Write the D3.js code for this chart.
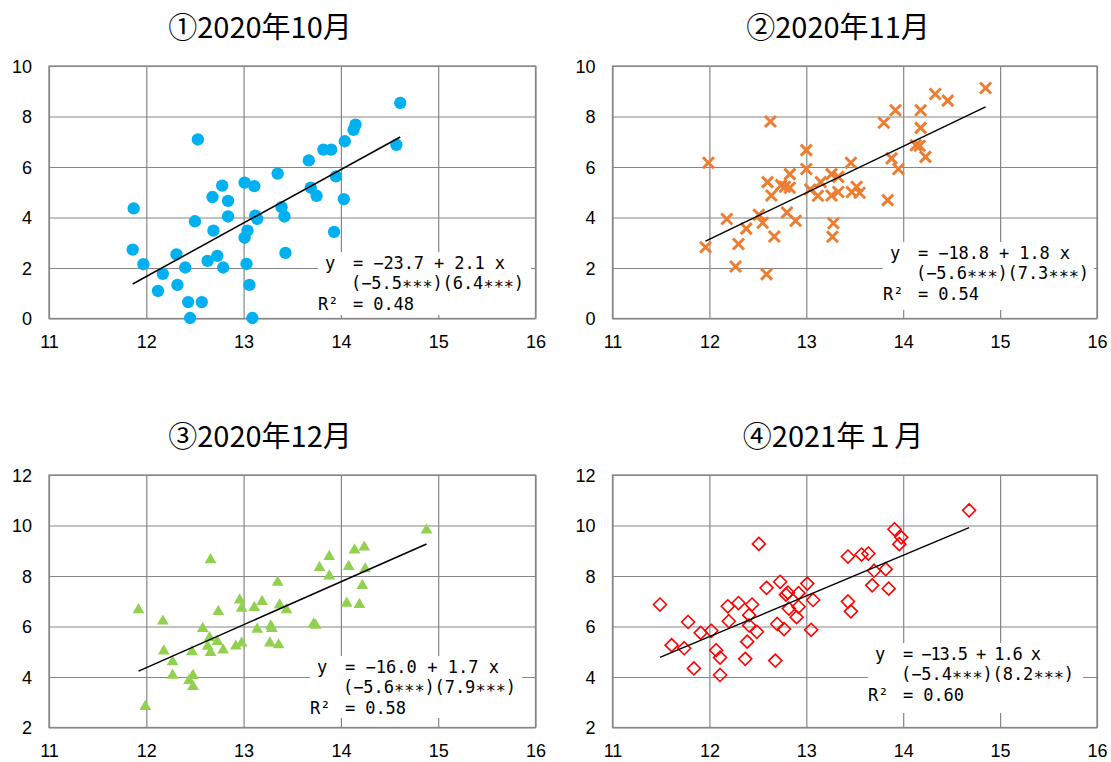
<!DOCTYPE html>
<html>
<head>
<meta charset="utf-8">
<script src="https://cdn.jsdelivr.net/npm/d3@7"></script>
<style>
  body { margin: 0; background: #fff; }
  svg { display: block; }
</style>
</head>
<body>
<div id="app"></div>
<script>
(function (d3) {

  'use strict'

  // titles
  const titles = ['①2020年10月', '②2020年11月', '③2020年12月', '④2021年１月']

  // tick values
  const xTicks = [11, 12, 13, 14, 15, 16]
  const yTicksTop = [0, 2, 4, 6, 8, 10]
  const yTicksBottom = [2, 4, 6, 8, 10, 12]

  // 2020/10
  const octX = [14.61, 14.57, 14.15, 14.13, 14.04, 13.82, 13.90, 13.67, 12.53, 13.35, 13.95, 13.69, 13.75, 14.03, 13.01, 13.11, 12.78, 12.68, 12.84, 12.84, 13.14, 13.39, 13.42, 11.87, 12.50, 12.69, 13.04, 13.01, 13.93, 13.43, 11.86, 11.97, 12.31, 12.40, 12.63, 12.73, 12.79, 13.03, 12.17, 12.12, 12.32, 13.06, 12.43, 12.57, 12.45, 13.09, 13.12]
  const octY = [8.54, 6.88, 7.68, 7.47, 7.02, 6.69, 6.69, 6.26, 7.09, 5.74, 5.63, 5.18, 4.86, 4.73, 5.38, 5.24, 5.26, 4.81, 4.66, 4.04, 3.95, 4.41, 4.04, 4.36, 3.85, 3.48, 3.48, 3.20, 3.43, 2.60, 2.73, 2.15, 2.54, 2.02, 2.28, 2.48, 2.02, 2.16, 1.77, 1.09, 1.33, 1.33, 0.65, 0.65, 0.02, 0.02, 4.07]
  const octCoef = [-23.74, 2.117]
  const octNotes = ['= −23.7 + 2.1 x', '(−5.5∗∗∗)(6.4∗∗∗)', '= 0.48']

  // 2020/11
  const novX = [14.85, 14.33, 14.46, 13.92, 14.18, 13.80, 14.18, 12.63, 14.13, 14.17, 14.23, 13.88, 13.95, 11.99, 13.00, 13.00, 13.46, 12.60, 12.64, 12.83, 12.74, 12.78, 12.83, 13.15, 13.26, 13.33, 13.04, 13.12, 13.26, 13.33, 13.47, 13.52, 13.55, 13.84, 12.80, 12.89, 12.18, 12.51, 12.55, 12.38, 12.67, 13.28, 13.27, 12.30, 11.96, 12.27, 12.59]
  const novY = [9.13, 8.89, 8.63, 8.25, 8.25, 7.75, 7.55, 7.80, 6.86, 6.84, 6.40, 6.34, 5.92, 6.17, 6.67, 5.92, 6.17, 5.40, 4.87, 5.72, 5.28, 5.22, 5.18, 5.40, 5.72, 5.61, 5.11, 4.86, 4.87, 5.01, 5.01, 5.22, 4.98, 4.69, 4.20, 3.87, 3.94, 4.11, 3.79, 3.56, 3.25, 3.77, 3.24, 2.95, 2.82, 2.06, 1.75]
  const novCoef = [-18.94, 1.84]
  const novNotes = ['= −18.8 + 1.8 x', '(−5.6∗∗∗)(7.3∗∗∗)', '= 0.54']

  // 2020/12
  const decX = [14.88, 14.24, 14.14, 13.88, 13.78, 14.08, 13.88, 14.25, 14.22, 12.66, 13.35, 14.06, 14.19, 12.96, 13.19, 13.11, 12.98, 13.37, 13.44, 12.74, 11.92, 12.17, 12.58, 13.14, 13.28, 13.29, 13.72, 13.74, 12.65, 12.73, 12.63, 12.66, 12.79, 12.92, 12.98, 13.27, 13.36, 12.18, 12.47, 12.27, 12.27, 12.48, 12.44, 12.48, 11.99]
  const decY = [9.82, 9.14, 9.03, 8.77, 8.33, 8.37, 8.00, 8.28, 7.62, 8.64, 7.75, 6.92, 6.87, 7.05, 6.99, 6.75, 6.72, 6.85, 6.66, 6.59, 6.66, 6.21, 5.92, 5.89, 6.02, 5.92, 6.10, 6.05, 5.55, 5.40, 5.21, 4.97, 5.07, 5.22, 5.34, 5.34, 5.27, 5.03, 5.00, 4.60, 4.07, 4.06, 3.86, 3.62, 2.83]
  const decCoef = [-16.03, 1.70]
  const decNotes = ['= −16.0 + 1.7 x', '(−5.6∗∗∗)(7.9∗∗∗)', '= 0.58']

  // 2021/01
  const janX = [14.68, 13.91, 13.98, 13.96, 12.51, 13.43, 13.57, 13.64, 13.70, 13.82, 13.68, 13.85, 12.73, 12.59, 13.01, 12.79, 12.81, 12.92, 13.07, 13.43, 13.46, 11.49, 12.19, 12.30, 12.44, 12.41, 12.20, 12.82, 12.92, 12.90, 12.70, 12.77, 11.78, 11.91, 12.02, 12.41, 12.49, 13.05, 12.39, 11.61, 11.74, 12.07, 12.11, 12.37, 12.68, 11.84, 12.11]
  const janY = [10.60, 9.85, 9.53, 9.26, 9.27, 8.77, 8.85, 8.89, 8.21, 8.27, 7.63, 7.50, 7.77, 7.53, 7.70, 7.26, 7.34, 7.32, 7.05, 6.99, 6.60, 6.87, 6.80, 6.93, 6.87, 6.45, 6.21, 6.71, 6.78, 6.37, 6.10, 5.90, 6.18, 5.75, 5.83, 6.04, 5.79, 5.87, 5.40, 5.26, 5.14, 5.06, 4.77, 4.72, 4.65, 4.34, 4.08]
  const janCoef = [-13.72, 1.61]
  const janNotes = ['= −13.5 + 1.6 x', '(−5.4∗∗∗)(8.2∗∗∗)', '= 0.60']

  const gridColor = '#868686'
  const tickFont = '"Liberation Sans", Arial, sans-serif'
  const cjkFont = '"Noto Sans CJK JP", "Noto Sans", sans-serif'
  const monoFont = '"DejaVu Sans Mono", monospace'

  // layout of the four panels
  const panels = [
    { title: titles[0], xs: octX, ys: octY, coef: octCoef, notes: octNotes, yTicks: yTicksTop,
      marker: 'circle', color: '#00b0f0', left: 49, right: 535.5, top: 66, bottom: 318.5,
      titleX: 260, titleY: 38, box: { x: 318, y: 252, w: 213, h: 63 }, eqW: 152 },
    { title: titles[1], xs: novX, ys: novY, coef: novCoef, notes: novNotes, yTicks: yTicksTop,
      marker: 'cross', color: '#ed7d31', left: 612.5, right: 1097, top: 66, bottom: 318.5,
      titleX: 838, titleY: 38, box: { x: 883, y: 242, w: 211, h: 68 }, eqW: 152 },
    { title: titles[2], xs: decX, ys: decY, coef: decCoef, notes: decNotes, yTicks: yTicksBottom,
      marker: 'triangle', color: '#92d050', left: 49, right: 535.5, top: 475, bottom: 727.5,
      titleX: 260, titleY: 447, box: { x: 310, y: 656, w: 212, h: 62 }, eqW: 154 },
    { title: titles[3], xs: janX, ys: janY, coef: janCoef, notes: janNotes, yTicks: yTicksBottom,
      marker: 'diamond', color: '#ff0000', left: 612.5, right: 1097, top: 475, bottom: 727.5,
      titleX: 833, titleY: 447, box: { x: 868, y: 643, w: 215, h: 70 }, eqW: 138 }
  ]

  const svg = d3.select('#app')
                .append('svg')
                .attr('width', 1111)
                .attr('height', 762)
                .style('background', '#fff')

  const drawPanel = function (p) {
    const w = p.right - p.left
    const h = p.bottom - p.top
    const g = svg.append('g')
                 .attr('transform', 'translate(' + p.left + ',' + p.top + ')')

    const xScale = d3.scaleLinear().domain([11, 16]).range([0, w])
    const yScale = d3.scaleLinear().domain(d3.extent(p.yTicks)).range([h, 0])

    // x axis + vertical grid
    const xAxis = d3.axisBottom(xScale)
                    .tickValues(xTicks)
                    .tickFormat(d3.format('d'))
                    .tickSizeInner(-h)
                    .tickSizeOuter(0)
                    .tickPadding(17)
    g.append('g')
     .attr('transform', 'translate(0,' + h + ')')
     .call(xAxis)
     .call(function (a) { a.select('.domain').remove() })
     .attr('font-family', tickFont)
     .attr('font-size', 18)
     .call(function (a) {
       a.selectAll('line').attr('stroke', gridColor).attr('stroke-width', 1.2)
       a.selectAll('text').attr('fill', '#000')
     })

    // y axis + horizontal grid
    const yAxis = d3.axisLeft(yScale)
                    .tickValues(p.yTicks)
                    .tickFormat(d3.format('d'))
                    .tickSizeInner(-w)
                    .tickSizeOuter(0)
                    .tickPadding(17)
    g.append('g')
     .call(yAxis)
     .call(function (a) { a.select('.domain').remove() })
     .attr('font-family', tickFont)
     .attr('font-size', 18)
     .call(function (a) {
       a.selectAll('line').attr('stroke', gridColor).attr('stroke-width', 1.2)
       a.selectAll('text').attr('fill', '#000').attr('dy', '0.36em')
     })

    // plot border
    g.append('rect')
     .attr('width', w)
     .attr('height', h)
     .attr('fill', 'none')
     .attr('stroke', gridColor)
     .attr('stroke-width', 1.3)

    // markers
    const pts = p.xs.map(function (x, i) { return { x: x, y: p.ys[i] } })
    const marks = g.selectAll('.pt')
                   .data(pts)
                   .enter()
                   .append('path')
                   .attr('class', 'pt')
                   .attr('transform', function (d) {
                     return 'translate(' + xScale(d.x) + ',' + yScale(d.y) + ')'
                   })

    if (p.marker === 'circle') {
      marks.attr('d', d3.symbol(d3.symbolCircle, 120))
           .attr('fill', p.color)
    } else if (p.marker === 'cross') {
      marks.attr('d', 'M-5.5,-5.5L5.5,5.5M5.5,-5.5L-5.5,5.5')
           .attr('fill', 'none')
           .attr('stroke', p.color)
           .attr('stroke-width', 3)
    } else if (p.marker === 'triangle') {
      marks.attr('d', d3.symbol(d3.symbolTriangle, 60))
           .attr('fill', p.color)
    } else {
      marks.attr('d', 'M0,-6.5L6.5,0L0,6.5L-6.5,0Z')
           .attr('fill', 'none')
           .attr('stroke', p.color)
           .attr('stroke-width', 1.6)
    }

    // regression line
    const ext = d3.extent(p.xs)
    const line = d3.line()
                   .x(function (d) { return xScale(d) })
                   .y(function (d) { return yScale(p.coef[0] + p.coef[1] * d) })
    g.append('path')
     .datum(ext)
     .attr('d', line)
     .attr('fill', 'none')
     .attr('stroke', '#000')
     .attr('stroke-width', 1.5)

    // equation box
    const b = p.box
    const note = svg.append('g').attr('transform', 'translate(' + b.x + ',' + b.y + ')')
    note.append('rect')
        .attr('width', b.w)
        .attr('height', b.h)
        .attr('fill', '#fff')

    const txt = function (x, y, s, len) {
      const t = note.append('text')
                    .attr('x', x)
                    .attr('y', y)
                    .attr('dy', '0.35em')
                    .attr('font-family', monoFont)
                    .attr('font-size', 17)
                    .attr('fill', '#000')
                    .style('white-space', 'pre')
                    .text(s)
      if (len) t.attr('textLength', len).attr('lengthAdjust', 'spacing')
      return t
    }
    txt(7, 11, 'y')
    txt(35, 11, p.notes[0], p.eqW)
    txt(33, 31, p.notes[1], 173)
    txt(0, 52, 'R²')
    txt(35, 52, p.notes[2], 61)

    // title
    svg.append('text')
       .attr('x', p.titleX)
       .attr('y', p.titleY)
       .attr('text-anchor', 'middle')
       .attr('font-family', cjkFont)
       .attr('font-size', 29)
       .attr('fill', '#000')
       .text(p.title)
  }

  panels.forEach(drawPanel)

})(d3)
</script>
</body>
</html>
